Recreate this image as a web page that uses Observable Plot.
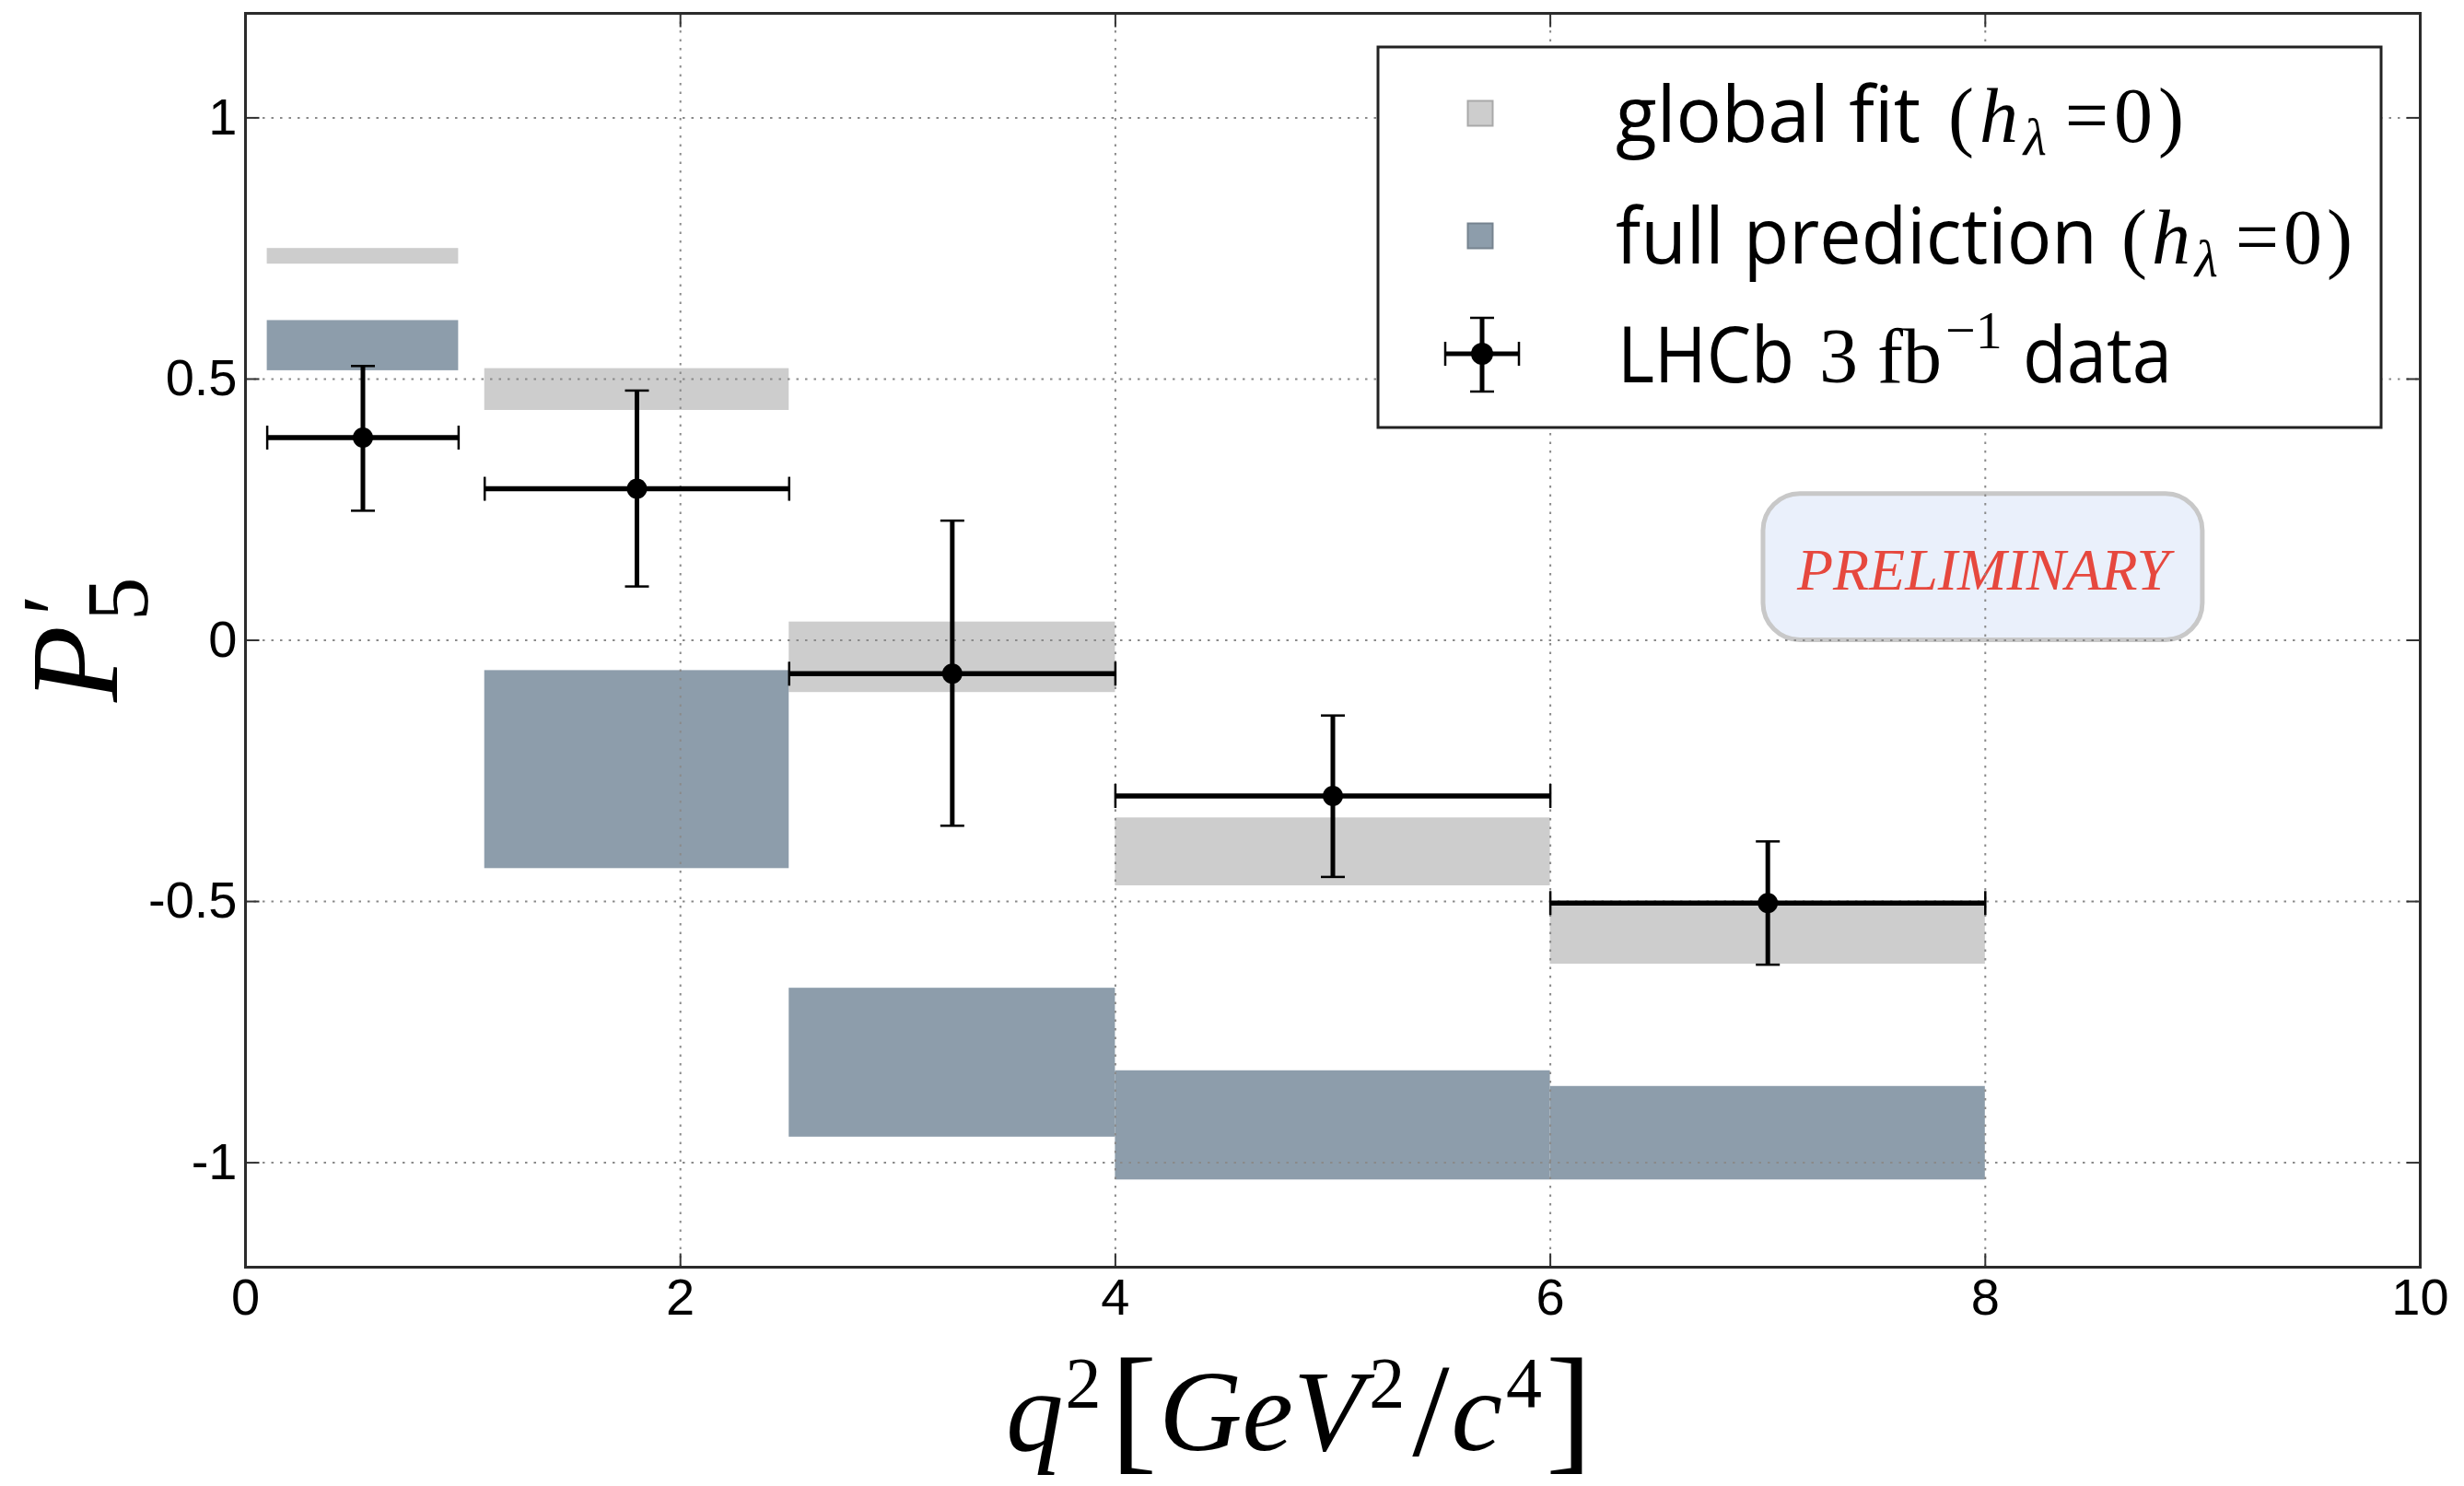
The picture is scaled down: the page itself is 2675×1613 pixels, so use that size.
<!DOCTYPE html>
<html>
<head>
<meta charset="utf-8">
<script src="https://cdn.jsdelivr.net/npm/d3@7"></script>
<script src="https://cdn.jsdelivr.net/npm/@observablehq/plot@0.6"></script>
<style>
  html, body { margin: 0; padding: 0; background: #fff; }
  #chart { width: 2675px; height: 1613px; }
</style>
</head>
<body>
<div id="chart"></div>
<script>
// ---------- data ----------
const binLo = [0.1, 1.1, 2.5, 4, 6];
const binHi = [0.98, 2.5, 4, 6, 8];
const globalFitLo = [0.72, 0.44, -0.10, -0.47, -0.62];
const globalFitHi = [0.75, 0.52, 0.035, -0.34, -0.50];
const fullPredLo = [0.516, -0.437, -0.951, -1.033, -1.033];
const fullPredHi = [0.612, -0.058, -0.666, -0.824, -0.854];
const dataX = [0.54, 1.8, 3.25, 5.0, 7.0];
const dataY = [0.388, 0.290, -0.064, -0.298, -0.503];
const dataErrLo = [0.248, 0.103, -0.355, -0.453, -0.621];
const dataErrHi = [0.525, 0.478, 0.229, -0.144, -0.385];
const xTicks = [0, 2, 4, 6, 8, 10];
const yTicks = [-1, -0.5, 0, 0.5, 1];
const xDomain = [0, 10];
const yDomain = [-1.2, 1.2];
const watermarkText = "PRELIMINARY";
const watermarkX = [6.98, 9.0];
const watermarkY = [0, 0.28];

const GREY = "#cdcdcd";
const BLUE = "#8d9dab";

// ---------- tables ----------
const bins = binLo.map((lo, i) => ({
  x1: lo, x2: binHi[i],
  gLo: globalFitLo[i], gHi: globalFitHi[i],
  fLo: fullPredLo[i], fHi: fullPredHi[i]
}));
const points = dataX.map((x, i) => ({
  x, y: dataY[i], lo: dataErrLo[i], hi: dataErrHi[i], xlo: binLo[i], xhi: binHi[i]
}));

// custom line symbols (caps / inward ticks)
const hLine = { draw(ctx, size) { const r = Math.sqrt(size / Math.PI); ctx.moveTo(-r, 0); ctx.lineTo(r, 0); } };
const vLine = { draw(ctx, size) { const r = Math.sqrt(size / Math.PI); ctx.moveTo(0, -r); ctx.lineTo(0, r); } };

const gridStyle = { stroke: "#8a8a8a", strokeWidth: 2, strokeDasharray: "2.5,7" };
const tickStyle = { stroke: "#333", strokeWidth: 2, fill: "none", r: 7.5 };
const capStyle = { stroke: "#000", strokeWidth: 2.5, fill: "none", r: 13 };

const plot = Plot.plot({
  width: 2675,
  height: 1613,
  marginLeft: 266,
  marginRight: 48,
  marginTop: 14,
  marginBottom: 238,
  style: { fontFamily: "'Liberation Sans', Arial, sans-serif", fontSize: "56px", background: "#fff", color: "#000" },
  x: { domain: xDomain, ticks: xTicks, tickSize: 0, tickPadding: 12, tickFormat: d => String(d), label: null },
  y: { domain: yDomain, ticks: yTicks, tickSize: 0, tickPadding: 9, tickFormat: d => String(d), label: null },
  marks: [
    // watermark box (below grid)
    Plot.rect([{ x1: watermarkX[0], x2: watermarkX[1], y1: watermarkY[0], y2: watermarkY[1] }],
      { x1: "x1", x2: "x2", y1: "y1", y2: "y2", fill: "#eaf0fb", stroke: "#c8c8c8", strokeWidth: 5, rx: 40 }),
    Plot.text([watermarkText], {
      x: (watermarkX[0] + watermarkX[1]) / 2, y: (watermarkY[0] + watermarkY[1]) / 2,
      text: d => d, fill: "#e6483e", fontSize: 64, fontStyle: "italic",
      fontFamily: "'Liberation Serif', 'DejaVu Serif', serif", textAnchor: "middle", dy: 4
    }),
    // bands
    Plot.rect(bins, { x1: "x1", x2: "x2", y1: "gLo", y2: "gHi", fill: GREY }),
    Plot.rect(bins, { x1: "x1", x2: "x2", y1: "fLo", y2: "fHi", fill: BLUE }),
    // grid (drawn above bands, as in reference)
    Plot.ruleX(xTicks.filter(d => d > xDomain[0] && d < xDomain[1]), gridStyle),
    Plot.ruleY(yTicks, gridStyle),
    // inward ticks on all four sides
    Plot.dot(xTicks, { x: d => d, frameAnchor: "bottom", symbol: vLine, dy: -7.5, ...tickStyle }),
    Plot.dot(xTicks, { x: d => d, frameAnchor: "top", symbol: vLine, dy: 7.5, ...tickStyle }),
    Plot.dot(yTicks, { y: d => d, frameAnchor: "left", symbol: hLine, dx: 7.5, ...tickStyle }),
    Plot.dot(yTicks, { y: d => d, frameAnchor: "right", symbol: hLine, dx: -7.5, ...tickStyle }),
    // data error bars
    Plot.ruleY(points, { y: "y", x1: "xlo", x2: "xhi", stroke: "#000", strokeWidth: 5.5 }),
    Plot.ruleX(points, { x: "x", y1: "lo", y2: "hi", stroke: "#000", strokeWidth: 5 }),
    Plot.dot(points, { x: "x", y: "lo", symbol: hLine, ...capStyle }),
    Plot.dot(points, { x: "x", y: "hi", symbol: hLine, ...capStyle }),
    Plot.dot(points, { x: "xlo", y: "y", symbol: vLine, ...capStyle }),
    Plot.dot(points, { x: "xhi", y: "y", symbol: vLine, ...capStyle }),
    Plot.dot(points, { x: "x", y: "y", r: 11, fill: "#000", stroke: "none" }),
    Plot.frame({ stroke: "#2b2b2b", strokeWidth: 3 })
  ]
});

document.getElementById("chart").appendChild(plot);

// ---------- annotations: axis labels & legend ----------
const svg = d3.select(plot);
const SERIF = "'Liberation Serif', 'DejaVu Serif', serif";
const SANS = "'Open Sans', 'DejaVu Sans', sans-serif";

// y label P'_5 (rotated)
const yl = svg.append("g").attr("transform", "translate(127,762) rotate(-90)")
  .attr("font-family", SERIF).attr("fill", "#000").attr("text-anchor", "start");
yl.append("text").attr("x", 0).attr("y", 0).attr("font-size", 136).attr("font-style", "italic").text("P");
yl.append("text").attr("x", 94).attr("y", -30).attr("font-size", 105).text("\u2032");
yl.append("text").attr("x", 88).attr("y", 33).attr("font-size", 95).text("5");

// x label q^2 [GeV^2/c^4] as one text
const xl = svg.append("text").attr("x", 1092).attr("y", 1574).attr("text-anchor", "start")
  .attr("font-family", SERIF).attr("font-size", 125).attr("fill", "#000");
xl.append("tspan").attr("font-style", "italic").text("q");
xl.append("tspan").attr("font-size", 78).attr("dy", -47).attr("dx", 2).text("2");
xl.append("tspan").attr("font-size", 152).attr("dy", 53).attr("dx", 10).text("[");
xl.append("tspan").attr("font-style", "italic").attr("dy", -6).attr("dx", 2).text("GeV");
xl.append("tspan").attr("font-size", 78).attr("dy", -47).attr("dx", 6).text("2");
xl.append("tspan").attr("font-size", 145).attr("dy", 53).attr("dx", 8).text("/");
xl.append("tspan").attr("font-style", "italic").attr("dy", -6).attr("dx", 2).text("c");
xl.append("tspan").attr("font-size", 78).attr("dy", -47).attr("dx", 4).text("4");
xl.append("tspan").attr("font-size", 152).attr("dy", 53).attr("dx", 4).text("]");

// legend
const lg = svg.append("g").attr("text-anchor", "start");
lg.append("rect").attr("x", 1496).attr("y", 51).attr("width", 1089).attr("height", 413)
  .attr("fill", "#fff").attr("stroke", "#222").attr("stroke-width", 3);
const mk = 27;
lg.append("rect").attr("x", 1607 - mk / 2).attr("y", 123 - mk / 2).attr("width", mk).attr("height", mk)
  .attr("fill", GREY).attr("stroke", "#a9a9a9").attr("stroke-width", 2);
lg.append("rect").attr("x", 1607 - mk / 2).attr("y", 256 - mk / 2).attr("width", mk).attr("height", mk)
  .attr("fill", BLUE).attr("stroke", "#76838f").attr("stroke-width", 2);
// data marker
const cx = 1609, cy = 384;
lg.append("line").attr("x1", cx).attr("x2", cx).attr("y1", 345).attr("y2", 425).attr("stroke", "#000").attr("stroke-width", 5);
lg.append("line").attr("x1", 1569).attr("x2", 1649).attr("y1", cy).attr("y2", cy).attr("stroke", "#000").attr("stroke-width", 5);
[[cx - 13, 345, cx + 13, 345], [cx - 13, 425, cx + 13, 425], [1569, cy - 13, 1569, cy + 13], [1649, cy - 13, 1649, cy + 13]]
  .forEach(([a, b, c, d]) => lg.append("line").attr("x1", a).attr("y1", b).attr("x2", c).attr("y2", d).attr("stroke", "#000").attr("stroke-width", 2.5));
lg.append("circle").attr("cx", cx).attr("cy", cy).attr("r", 12).attr("fill", "#000");

function sansText(x, y, w, txt) {
  lg.append("text").attr("x", x).attr("y", y).attr("text-anchor", "start").attr("font-family", SANS).attr("font-size", 84)
    .attr("textLength", w).attr("lengthAdjust", "spacingAndGlyphs").attr("fill", "#000").text(txt);
}
function mathH(x, y, w) {
  const t = lg.append("text").attr("x", x).attr("y", y).attr("text-anchor", "start").attr("font-family", SERIF).attr("font-size", 84)
    .attr("textLength", w).attr("fill", "#000");
  t.append("tspan").text("(");
  t.append("tspan").attr("font-style", "italic").text("h");
  t.append("tspan").attr("font-style", "italic").attr("font-size", 58).attr("dy", 14).text("\u03bb");
  t.append("tspan").attr("dy", -14).attr("dx", 14).text("=0)");
}
sansText(1754, 154, 331, "global fit");
mathH(2115, 154, 256);
sansText(1754, 286, 523, "full prediction");
mathH(2303, 286, 251);
sansText(1756, 415, 192, "LHCb");
lg.append("text").attr("x", 1975).attr("y", 415).attr("text-anchor", "start").attr("font-family", SERIF).attr("font-size", 84).attr("fill", "#000").text("3");
lg.append("text").attr("x", 2038).attr("y", 415).attr("text-anchor", "start").attr("font-family", SERIF).attr("font-size", 84).attr("fill", "#000").text("fb");
lg.append("text").attr("x", 2112).attr("y", 378).attr("text-anchor", "start").attr("font-family", SERIF).attr("font-size", 58).attr("fill", "#000").text("\u22121");
sansText(2196, 415, 162, "data");
</script>
</body>
</html>
